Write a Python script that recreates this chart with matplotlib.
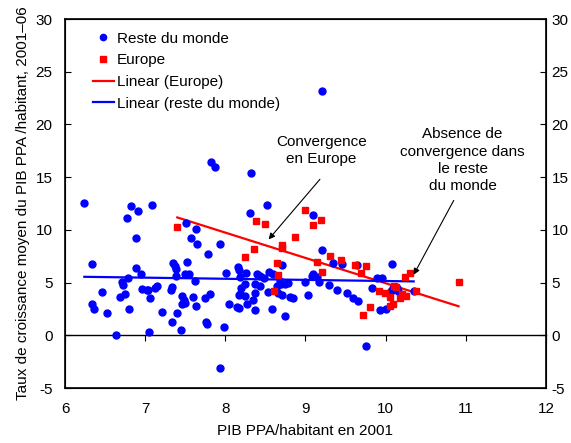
import matplotlib
matplotlib.use("Agg")
import matplotlib.pyplot as plt
import numpy as np

plt.rcParams['font.family'] = ['Liberation Sans', 'DejaVu Sans']
plt.rcParams['axes.unicode_minus'] = False

# Reste du monde: PIB PPA/habitant (log) en 2001, croissance moyenne 2001-06
monde_x = [6.24, 6.34, 6.34, 6.36, 6.46, 6.52, 6.64, 6.69, 6.75, 6.71, 6.72, 6.79,
           6.80, 6.77, 6.82, 6.91, 7.08, 6.89, 6.89, 6.95, 6.96, 7.02, 7.04, 7.06,
           7.05, 7.12, 7.15, 7.21, 7.33, 7.32, 7.33, 7.35, 7.37, 7.38, 7.38, 7.40,
           7.45, 7.46, 7.48, 7.46, 7.50, 7.50, 7.55, 7.51, 7.52, 7.57, 7.60, 7.62,
           7.63, 7.63, 7.65, 7.75, 7.76, 7.77, 7.81, 7.78, 7.82, 7.87, 7.93, 7.98,
           7.93, 8.01, 8.04, 8.14, 8.17, 8.17, 8.16, 8.17, 8.18, 8.19, 8.25, 8.26,
           8.27, 8.32, 8.31, 8.18, 8.24, 8.37, 8.34, 8.37, 8.37, 8.43, 8.39, 8.43,
           8.48, 8.52, 8.54, 8.60, 8.53, 8.58, 8.68, 8.69, 8.74, 8.78, 8.64, 8.66,
           8.71, 8.71, 8.74, 8.81, 8.85, 8.99, 9.03, 9.09, 9.08, 9.09, 9.14, 9.17,
           9.29, 9.20, 9.20, 9.34, 9.45, 9.64, 9.39, 9.52, 9.59, 9.66, 9.75, 9.83,
           9.89, 9.95, 9.93, 10.00, 10.08, 10.07, 10.09, 10.14, 10.15, 10.35]
monde_y = [12.6, 6.8, 3.0, 2.5, 4.1, 2.1, 0.0, 3.6, 3.9, 5.1, 4.8, 5.4,
           2.5, 11.1, 12.3, 11.8, 12.4, 9.2, 6.4, 5.8, 4.4, 4.3, 4.3, 3.5,
           0.3, 4.5, 4.7, 2.2, 1.3, 4.3, 4.6, 6.9, 6.6, 6.3, 5.6, 2.1,
           0.5, 3.7, 3.4, 3.0, 3.1, 5.8, 5.8, 10.7, 7.0, 9.2, 3.6, 5.2,
           10.1, 2.8, 8.7, 3.5, 1.3, 1.1, 3.9, 7.7, 16.4, 16.0, 8.7, 0.8,
           -3.1, 5.9, 3.0, 2.7, 2.6, 3.8, 6.5, 6.2, 5.5, 4.5, 4.9, 5.9,
           3.0, 15.4, 11.6, 3.9, 3.7, 4.0, 3.4, 2.4, 4.9, 4.7, 5.8, 5.6,
           5.4, 12.4, 6.0, 5.8, 4.1, 2.5, 5.2, 4.9, 4.9, 5.0, 4.7, 4.0,
           3.8, 6.7, 1.8, 3.6, 3.5, 5.1, 3.8, 11.4, 5.6, 5.8, 5.5, 5.1,
           4.8, 23.2, 8.1, 6.9, 6.8, 6.7, 4.3, 4.0, 3.5, 3.3, -1.0, 4.5,
           5.4, 5.4, 2.4, 2.5, 6.8, 4.2, 4.5, 4.5, 4.2, 4.2]

# Europe
europe_x = [7.40, 8.24, 8.36, 8.38, 8.49, 8.64, 8.66, 8.61, 8.71, 8.71, 8.87, 9.00,
            9.09, 9.14, 9.19, 9.21, 9.30, 9.44, 9.62, 9.75, 9.69, 9.72, 9.80, 9.92,
            9.99, 10.10, 10.13, 10.06, 10.05, 10.09, 10.18, 10.20, 10.25, 10.24,
            10.30, 10.38, 10.91]
europe_y = [10.3, 7.4, 8.2, 10.8, 10.6, 6.9, 5.7, 4.2, 8.6, 8.3, 9.3, 11.9,
            10.5, 7.0, 10.9, 6.0, 7.5, 7.1, 6.7, 6.6, 5.9, 1.9, 2.7, 4.2,
            4.0, 4.7, 4.6, 3.6, 2.8, 3.0, 3.5, 3.9, 3.7, 5.5,
            5.9, 4.2, 5.1]

fig = plt.figure(figsize=(5.71, 4.43), dpi=100)
ax = fig.add_axes([0.114, 0.124, 0.842, 0.833])

ax.plot(monde_x, monde_y, 'o', color='#0000FF', ms=5, label='Reste du monde', zorder=3)
ax.plot(europe_x, europe_y, 's', color='#FF0000', ms=5, label='Europe', zorder=3)

# droites de tendance (moindres carres)
def trend(xs, ys):
    a, b = np.polyfit(xs, ys, 1)
    xx = np.array([min(xs), max(xs)])
    return xx, a * xx + b

tx, ty = trend(europe_x, europe_y)
ax.plot(tx, ty, color='#FF0000', lw=1.6, label='Linear (Europe)', zorder=2)
tx, ty = trend(monde_x, monde_y)
ax.plot(tx, ty, color='#0000FF', lw=1.6, label='Linear (reste du monde)', zorder=2)

ax.set_xlim(6, 12)
ax.set_ylim(-5, 30)
ax.set_xticks(range(6, 13))
ax.set_yticks(range(-5, 31, 5))
ax.tick_params(axis='x', length=0, labelsize=11, pad=10)
ax.tick_params(axis='y', direction='in', length=4, labelsize=11, pad=9)
for s in ax.spines.values():
    s.set_linewidth(1.2)

# axe de droite (memes graduations)
ax2 = ax.twinx()
ax2.set_ylim(-5, 30)
ax2.set_yticks(range(-5, 31, 5))
ax2.tick_params(axis='y', direction='in', length=4, labelsize=11, pad=4)

# axe horizontal a y = 0
sec = ax.secondary_xaxis(5 / 35)
sec.set_xticks(range(6, 13))
sec.tick_params(direction='out', length=4, labelbottom=False)
sec.spines['bottom'].set_linewidth(1.0)

ax.set_xlabel('PIB PPA/habitant en 2001', fontsize=11, labelpad=6)
ax.set_ylabel('Taux de croissance moyen du PIB PPA /habitant, 2001\u201306', fontsize=11,
              labelpad=4)

arrow = dict(arrowstyle='-|>', color='black', lw=0.8, shrinkA=0, shrinkB=0, mutation_scale=9)
ax.text(9.2, 17.5, 'Convergence\nen Europe', ha='center', va='center', fontsize=11,
        linespacing=1.3)
ax.annotate('', xy=(8.54, 9.1), xytext=(9.18, 14.8), arrowprops=arrow)
ax.text(10.96, 16.6, 'Absence de\nconvergence dans\nle reste\ndu monde', ha='center',
        va='center', fontsize=11, linespacing=1.3)
ax.annotate('', xy=(10.35, 5.75), xytext=(10.85, 12.8), arrowprops=arrow)

ax.legend(loc='upper left', bbox_to_anchor=(0.035, 0.995), frameon=False, fontsize=11,
          handlelength=1.4, handletextpad=0.2, labelspacing=0.5, borderpad=0.2,
          markerscale=0.9)

fig.savefig('out.png', dpi=100)
